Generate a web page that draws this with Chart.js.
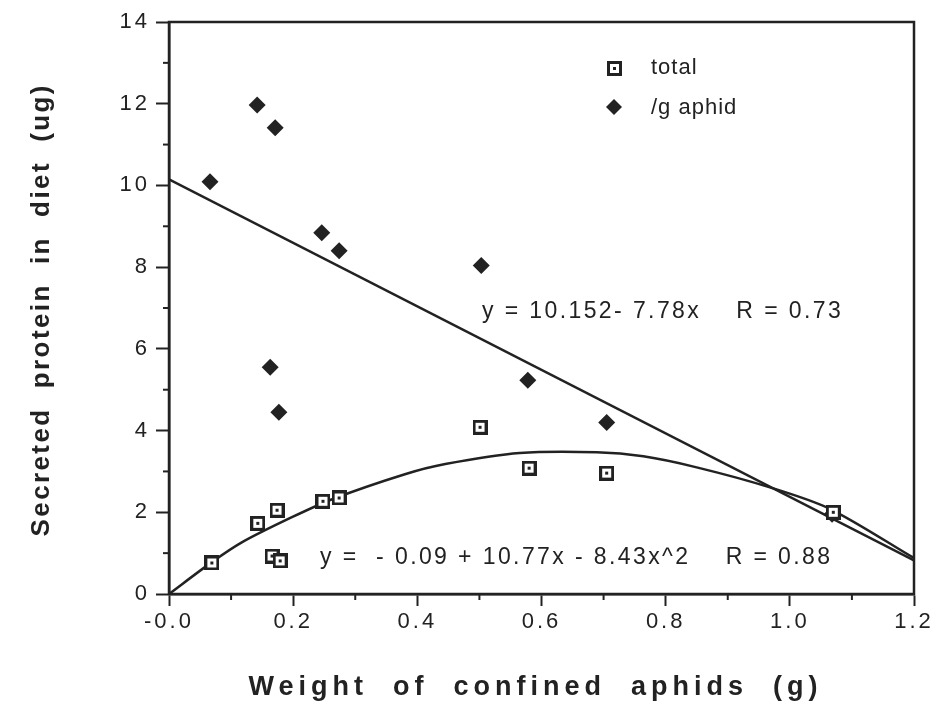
<!DOCTYPE html>
<html>
<head>
<meta charset="utf-8">
<script src="https://cdn.jsdelivr.net/npm/chart.js@4.4.1/dist/chart.umd.min.js"></script>
<style>
  html, body { margin: 0; padding: 0; background: #fff; }
  #wrap { width: 940px; height: 706px; position: relative; }
</style>
</head>
<body>
<div id="wrap"><canvas id="proteinChart"></canvas></div>
<script>
// data
var totalX = [0.069, 0.143, 0.166, 0.174, 0.179, 0.248, 0.274, 0.501, 0.580, 0.705, 1.070];
var totalY = [0.76, 1.73, 0.93, 2.05, 0.81, 2.27, 2.35, 4.08, 3.08, 2.96, 2.00];
var perGramX = [0.066, 0.142, 0.163, 0.171, 0.177, 0.246, 0.274, 0.503, 0.578, 0.705, 1.068];
var perGramY = [10.09, 11.97, 5.55, 11.41, 4.45, 8.84, 8.40, 8.04, 5.23, 4.20, 1.95];
// fitted lines as drawn
var linFitX = [0.0, 1.2];
var linFitY = [10.15, 0.82];
var quadFitX = [0.0, 0.069, 0.118, 0.198, 0.263, 0.380, 0.445, 0.565, 0.689, 0.764, 0.850, 0.968, 1.065, 1.2];
var quadFitY = [0.0, 0.78, 1.27, 1.88, 2.32, 2.93, 3.18, 3.45, 3.47, 3.37, 3.10, 2.61, 2.08, 0.88];

var xTickLabels = ["-0.0", "0.2", "0.4", "0.6", "0.8", "1.0", "1.2"];
var yTickLabels = ["0", "2", "4", "6", "8", "10", "12", "14"];
var legendLabels = ["total", "/g aphid"];
var linFitText = "y = 10.152- 7.78x    R = 0.73";
var quadFitText = "y =  - 0.09 + 10.77x - 8.43x^2    R = 0.88";
var xTitle = "Weight  of  confined  aphids  (g)";
var yTitle = "Secreted  protein  in  diet  (ug)";

var INK = "#222";
var FAMILY = "'Liberation Sans', Arial, sans-serif";

function zip(xs, ys) {
    return xs.map(function (x, i) { return { x: x, y: ys[i] }; });
}

// hollow square with a dot in the middle
function squareMarker() {
    var c = document.createElement("canvas");
    c.width = 15; c.height = 15;
    var g = c.getContext("2d");
    g.fillStyle = INK; g.fillRect(0, 0, 15, 15);
    g.fillStyle = "#fff"; g.fillRect(3, 3, 9, 9);
    g.fillStyle = INK; g.fillRect(6, 6, 3, 3);
    return c;
}
var sq = squareMarker();

function drawDiamond(ctx, x, y, r) {
    ctx.beginPath();
    ctx.moveTo(x, y - r); ctx.lineTo(x + r, y);
    ctx.lineTo(x, y + r); ctx.lineTo(x - r, y);
    ctx.closePath();
    ctx.fill();
}

// text with spacing, centred on (x, y) without the trailing gap
function spacedCentre(ctx, txt, x, y, sp) {
    ctx.letterSpacing = "0px";
    var w = ctx.measureText(txt).width + sp * (txt.length - 1);
    ctx.letterSpacing = sp + "px";
    ctx.textAlign = "left";
    ctx.fillText(txt, x - w / 2, y);
}

var extras = {
    id: "extras",
    beforeDraw: function (chart) {
        chart.ctx.letterSpacing = "3px";
    },
    afterDraw: function (chart) {
        var ctx = chart.ctx, a = chart.chartArea;
        var xs = chart.scales.x, ys = chart.scales.y;
        ctx.save();
        ctx.letterSpacing = "0px";
        // frame
        ctx.strokeStyle = INK; ctx.lineWidth = 2.5;
        ctx.strokeRect(a.left, a.top, a.right - a.left, a.bottom - a.top);
        // minor ticks
        ctx.lineWidth = 2;
        xs.ticks.forEach(function (t, i) {
            if (i % 2 === 1) {
                var px = xs.getPixelForValue(t.value);
                ctx.beginPath(); ctx.moveTo(px, a.bottom); ctx.lineTo(px, a.bottom + 6); ctx.stroke();
            }
        });
        ys.ticks.forEach(function (t, i) {
            if (i % 2 === 1) {
                var py = ys.getPixelForValue(t.value);
                ctx.beginPath(); ctx.moveTo(a.left, py); ctx.lineTo(a.left - 6, py); ctx.stroke();
            }
        });
        // legend
        ctx.fillStyle = INK;
        ctx.font = "22px " + FAMILY;
        ctx.textBaseline = "middle";
        ctx.letterSpacing = "1px";
        ctx.drawImage(sq, 607, 61);
        ctx.fillText(legendLabels[0], 651, 68);
        drawDiamond(ctx, 614, 107, 8);
        ctx.fillText(legendLabels[1], 651, 108);
        // equations
        ctx.font = "23px " + FAMILY;
        ctx.letterSpacing = "2.4px";
        ctx.fillText(linFitText, 482, 312);
        ctx.fillText(quadFitText, 320, 558);
        // axis titles
        ctx.font = "bold 27px " + FAMILY;
        spacedCentre(ctx, xTitle, 533, 688, 5);
        ctx.save();
        ctx.translate(42, 311);
        ctx.rotate(-Math.PI / 2);
        ctx.font = "bold 26px " + FAMILY;
        spacedCentre(ctx, yTitle, 0, 0, 2.4);
        ctx.restore();
        ctx.restore();
    }
};

new Chart(document.getElementById("proteinChart"), {
    type: "scatter",
    data: {
        datasets: [
            {
                label: legendLabels[0],
                data: zip(totalX, totalY),
                pointStyle: sq,
                pointRadius: 7.5,
                order: 0
            },
            {
                label: legendLabels[1],
                data: zip(perGramX, perGramY),
                pointStyle: "rectRot",
                pointRadius: 8.5,
                backgroundColor: INK,
                borderColor: INK,
                borderWidth: 0,
                order: 1
            },
            {
                type: "line",
                data: zip(linFitX, linFitY),
                borderColor: INK,
                borderWidth: 2.5,
                pointRadius: 0,
                order: 2
            },
            {
                type: "line",
                data: zip(quadFitX, quadFitY),
                borderColor: INK,
                borderWidth: 2.5,
                pointRadius: 0,
                tension: 0.3,
                order: 3
            }
        ]
    },
    options: {
        responsive: true,
        maintainAspectRatio: false,
        animation: false,
        layout: { padding: { top: 22, right: 26, left: 0, bottom: 0 } },
        plugins: {
            legend: { display: false },
            tooltip: { enabled: false }
        },
        scales: {
            x: {
                type: "linear",
                min: 0,
                max: 1.2,
                afterFit: function (s) { s.height = 706 - 594; },
                border: { display: true, color: INK, width: 2.5 },
                grid: {
                    drawOnChartArea: false,
                    tickLength: 12,
                    tickWidth: 2,
                    tickColor: function (c) { return c.index % 2 === 0 ? INK : "rgba(0,0,0,0)"; }
                },
                ticks: {
                    stepSize: 0.1,
                    autoSkip: false,
                    maxRotation: 0,
                    padding: 3,
                    color: INK,
                    font: { family: FAMILY, size: 22 },
                    callback: function (v, i) { return i % 2 === 0 ? xTickLabels[i / 2] : ""; }
                }
            },
            y: {
                type: "linear",
                min: 0,
                max: 14,
                afterFit: function (s) { s.width = 169; },
                border: { display: true, color: INK, width: 2.5 },
                grid: {
                    drawOnChartArea: false,
                    tickLength: 13,
                    tickWidth: 2,
                    tickColor: function (c) { return c.index % 2 === 0 ? INK : "rgba(0,0,0,0)"; }
                },
                ticks: {
                    stepSize: 1,
                    autoSkip: false,
                    padding: 6,
                    color: INK,
                    font: { family: FAMILY, size: 22 },
                    callback: function (v, i) { return i % 2 === 0 ? yTickLabels[i / 2] : ""; }
                }
            }
        }
    },
    plugins: [extras]
});
</script>
</body>
</html>
